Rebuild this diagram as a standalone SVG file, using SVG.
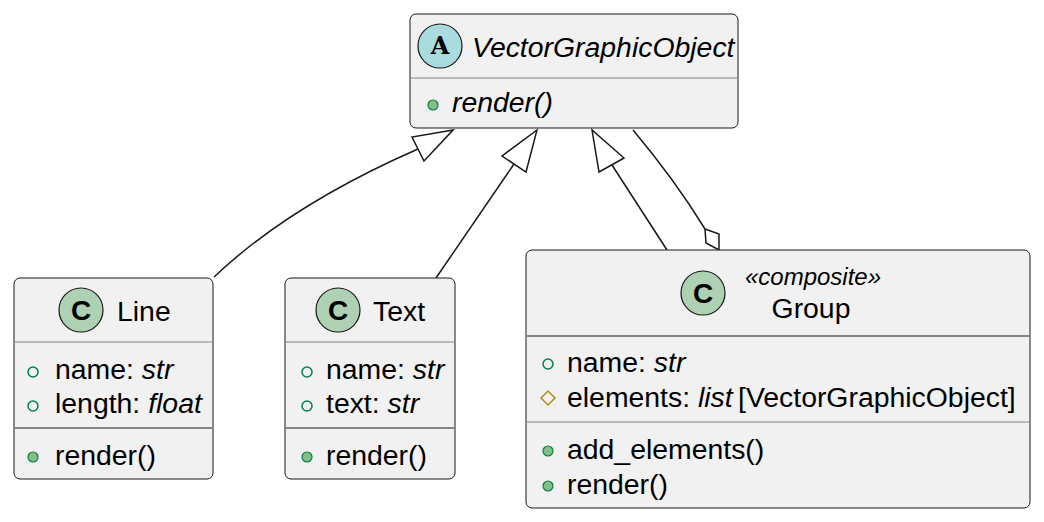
<svg xmlns="http://www.w3.org/2000/svg" width="1044" height="522" viewBox="0 0 1044 522">
<style>
.box{fill:#F1F1F1;stroke:#181818;stroke-width:1}
.sepg{stroke:#A8A8A8;stroke-width:1.5}
.sepb{stroke:#181818;stroke-width:1.2}
.t{font-family:"Liberation Sans",Arial,sans-serif;font-size:28.4px;fill:#000}
.i{font-style:italic}
.st{font-family:"Liberation Sans",Arial,sans-serif;font-size:24px;font-style:italic;fill:#000}
.cc{fill:#ADD1B2;stroke:#181818;stroke-width:1.2}
.ca{fill:#A9DCDF;stroke:#181818;stroke-width:1.2}
.cl{font-family:"Liberation Sans",Arial,sans-serif;font-size:28px;font-weight:bold;fill:#000;text-anchor:middle}
.al{font-family:"DejaVu Serif","Liberation Serif",serif;font-size:24px;font-weight:bold;fill:#000;text-anchor:middle}
.pub{fill:#84BE84;stroke:#038048;stroke-width:1.2}
.pubf{fill:none;stroke:#038048;stroke-width:1.5}
.prot{fill:none;stroke:#B38D22;stroke-width:1.5}
.edge{fill:none;stroke:#181818;stroke-width:1.5}
.head{fill:#FFFFFF;stroke:#181818;stroke-width:1.5;stroke-linejoin:miter}
</style>

<g id="connectors">
  <path class="edge" d="M214,277 Q290,205 418,149"/>
  <polygon class="head" points="453,130 412,137 424,161"/>
  <path class="edge" d="M436,278 L514,164"/>
  <polygon class="head" points="537,130 502,156 526,172"/>
  <path class="edge" d="M667,250 L612,165"/>
  <polygon class="head" points="592,130 599,172 624,158"/>
  <path class="edge" d="M633,130 Q675,180 705,229"/>
  <polygon class="head" points="705,229 719,234 719,250 706,243"/>
</g>

<g id="VectorGraphicObject">
  <rect class="box" x="410" y="14" width="328" height="114" rx="6"/>
  <circle class="ca" cx="440" cy="46" r="22"/>
  <text class="al" x="440" y="54">A</text>
  <text class="t i" x="472" y="57">VectorGraphicObject</text>
  <line class="sepg" x1="411" y1="78" x2="737" y2="78"/>
  <circle class="pub" cx="433" cy="105" r="5"/>
  <text class="t i" x="452" y="112">render()</text>
</g>

<g id="Line">
  <rect class="box" x="14" y="278" width="199" height="201" rx="6"/>
  <circle class="cc" cx="81" cy="310" r="22"/>
  <text class="cl" x="81" y="320">C</text>
  <text class="t" x="117" y="321">Line</text>
  <line class="sepg" x1="15" y1="342" x2="212" y2="342"/>
  <circle class="pubf" cx="33" cy="372" r="5"/>
  <text class="t" x="55" y="379">name: <tspan class="i">str</tspan></text>
  <circle class="pubf" cx="33" cy="406" r="5"/>
  <text class="t" x="55" y="413">length: <tspan class="i">float</tspan></text>
  <line class="sepb" x1="15" y1="428" x2="212" y2="428"/>
  <circle class="pub" cx="33" cy="457" r="5"/>
  <text class="t" x="55" y="465">render()</text>
</g>

<g id="Text">
  <rect class="box" x="285" y="278" width="170" height="201" rx="6"/>
  <circle class="cc" cx="338" cy="310" r="22"/>
  <text class="cl" x="338" y="320">C</text>
  <text class="t" x="373" y="321">Text</text>
  <line class="sepg" x1="286" y1="342" x2="454" y2="342"/>
  <circle class="pubf" cx="307" cy="372" r="5"/>
  <text class="t" x="326" y="379">name: <tspan class="i">str</tspan></text>
  <circle class="pubf" cx="307" cy="406" r="5"/>
  <text class="t" x="326" y="413">text: <tspan class="i">str</tspan></text>
  <line class="sepb" x1="286" y1="428" x2="454" y2="428"/>
  <circle class="pub" cx="307" cy="457" r="5"/>
  <text class="t" x="326" y="465">render()</text>
</g>

<g id="Group">
  <rect class="box" x="526" y="250" width="504" height="258" rx="6"/>
  <circle class="cc" cx="703" cy="293" r="22"/>
  <text class="cl" x="703" y="303">C</text>
  <text class="st" x="813" y="285" text-anchor="middle">«composite»</text>
  <text class="t" x="811" y="318" text-anchor="middle">Group</text>
  <line class="sepb" x1="527" y1="336" x2="1029" y2="336"/>
  <circle class="pubf" cx="548" cy="364" r="5"/>
  <text class="t" x="567" y="372">name: <tspan class="i">str</tspan></text>
  <polygon class="prot" points="548,391 555,398 548,405 541,398"/>
  <text class="t" x="567" y="407">elements: <tspan class="i" x="698">list</tspan><tspan x="738">[VectorGraphicObject]</tspan></text>
  <line class="sepg" x1="527" y1="422" x2="1029" y2="422"/>
  <circle class="pub" cx="548" cy="451" r="5"/>
  <text class="t" x="567" y="459">add_elements()</text>
  <circle class="pub" cx="548" cy="486" r="5"/>
  <text class="t" x="567" y="494">render()</text>
</g>
</svg>
